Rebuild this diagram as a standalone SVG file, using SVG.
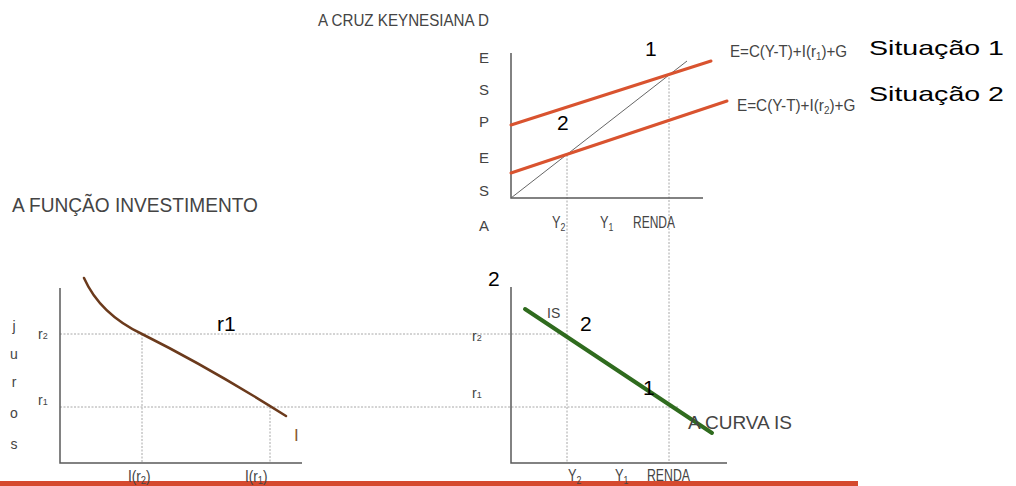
<svg xmlns="http://www.w3.org/2000/svg" width="1016" height="486" viewBox="0 0 1016 486">
<style>
.ax{stroke:#5a5a5a;stroke-width:1.5;fill:none}
.dot{stroke:#a8a8a8;stroke-width:1;stroke-dasharray:2 1.5;fill:none}
.red{stroke:#d9532f;stroke-width:3;fill:none;stroke-linecap:round}
.lbl{font-family:"Liberation Sans",Arial,sans-serif;fill:#444}
.big{font-family:"Liberation Sans",Arial,sans-serif;fill:#000;font-size:21px}
.sub{font-size:11px}
</style>
<rect width="1016" height="486" fill="#fff"/>

<g id="guides">
<line class="dot" x1="60" y1="334" x2="567" y2="334"/>
<line class="dot" x1="60" y1="407" x2="678" y2="407"/>
<line class="dot" x1="567" y1="155" x2="567" y2="463"/>
<line class="dot" x1="669" y1="74" x2="669" y2="463"/>
<line class="dot" x1="142" y1="334" x2="142" y2="463"/>
<line class="dot" x1="270" y1="407" x2="270" y2="463"/>
</g>

<rect id="baseline-bar" x="0" y="481" width="858" height="5" fill="#d5492e"/>

<g id="cruz-keynesiana">
<text class="lbl" x="318" y="26" font-size="17" textLength="171" lengthAdjust="spacingAndGlyphs">A CRUZ KEYNESIANA D</text>
<polyline class="ax" points="511,53 511,198 703,198"/>
<line x1="511" y1="198" x2="687" y2="61" stroke="#666" stroke-width="1"/>
<line class="red" x1="511" y1="125" x2="711" y2="61"/>
<line class="red" x1="511" y1="173" x2="727" y2="101"/>
<g class="lbl" font-size="15" text-anchor="middle">
<text x="484" y="63">E</text>
<text x="484" y="95">S</text>
<text x="484" y="127">P</text>
<text x="484" y="163">E</text>
<text x="484" y="196">S</text>
<text x="484" y="231">A</text>
</g>
<text class="lbl" transform="translate(552,228) scale(0.8,1)" font-size="16">Y<tspan class="sub" dy="3">2</tspan></text>
<text class="lbl" transform="translate(600,228) scale(0.8,1)" font-size="16">Y<tspan class="sub" dy="3">1</tspan></text>
<text class="lbl" x="633" y="228" font-size="16" textLength="42" lengthAdjust="spacingAndGlyphs">RENDA</text>
<text class="lbl" transform="translate(730,57) scale(0.89,1)" font-size="17">E=C(Y-T)+I(r<tspan class="sub" dy="3">1</tspan><tspan dy="-3">)+G</tspan></text>
<text class="lbl" transform="translate(737,111) scale(0.9,1)" font-size="17">E=C(Y-T)+I(r<tspan class="sub" dy="3">2</tspan><tspan dy="-3">)+G</tspan></text>
<text class="big" x="645" y="56">1</text>
<text class="big" x="557" y="130">2</text>
<text class="big" x="869" y="55" font-size="26" textLength="135" lengthAdjust="spacingAndGlyphs">Situação 1</text>
<text class="big" x="869" y="101" font-size="26" textLength="135" lengthAdjust="spacingAndGlyphs">Situação 2</text>
</g>

<g id="funcao-investimento">
<text class="lbl" x="12" y="212" font-size="20" textLength="246" lengthAdjust="spacingAndGlyphs">A FUNÇÃO INVESTIMENTO</text>
<polyline class="ax" points="60,288 60,463 302,463"/>
<path d="M84,278 Q100,314 142,334 Q210,368 286,416" stroke="#6b3a1c" stroke-width="2.5" fill="none" stroke-linecap="round"/>
<g class="lbl" font-size="14" text-anchor="middle">
<text x="14" y="331">j</text>
<text x="14" y="359">u</text>
<text x="14" y="387">r</text>
<text x="14" y="418">o</text>
<text x="14" y="449">s</text>
</g>
<text class="lbl" x="38" y="339" font-size="14">r<tspan font-size="9">2</tspan></text>
<text class="lbl" x="38" y="405" font-size="14">r<tspan font-size="9">1</tspan></text>
<text class="big" x="217" y="331">r1</text>
<text x="294" y="441" font-family="Liberation Sans,Arial,sans-serif" font-size="17" fill="#8a5a30">I</text>
<text class="lbl" transform="translate(128,482) scale(0.85,1)" font-size="16">I(r<tspan class="sub" dy="2">2</tspan><tspan dy="-2">)</tspan></text>
<text class="lbl" transform="translate(245,482) scale(0.85,1)" font-size="16">I(r<tspan class="sub" dy="2">1</tspan><tspan dy="-2">)</tspan></text>
</g>

<g id="curva-is">
<polyline class="ax" points="511,287 511,463 727,463"/>
<line x1="525" y1="309" x2="712" y2="433" stroke="#2f6b1e" stroke-width="4" stroke-linecap="round"/>
<text class="lbl" x="472" y="341" font-size="14">r<tspan font-size="9">2</tspan></text>
<text class="lbl" x="472" y="398" font-size="14">r<tspan font-size="9">1</tspan></text>
<text class="lbl" x="547" y="318" font-size="14">IS</text>
<text class="big" x="488" y="286">2</text>
<text class="big" x="580" y="331">2</text>
<text class="big" x="643" y="395">1</text>
<text class="lbl" x="688" y="429" font-size="19" textLength="104" lengthAdjust="spacingAndGlyphs">A CURVA IS</text>
<text class="lbl" transform="translate(568,481) scale(0.8,1)" font-size="16">Y<tspan class="sub" dy="3">2</tspan></text>
<text class="lbl" transform="translate(615,481) scale(0.8,1)" font-size="16">Y<tspan class="sub" dy="3">1</tspan></text>
<text class="lbl" x="647" y="481" font-size="16" textLength="43" lengthAdjust="spacingAndGlyphs">RENDA</text>
</g>
</svg>
